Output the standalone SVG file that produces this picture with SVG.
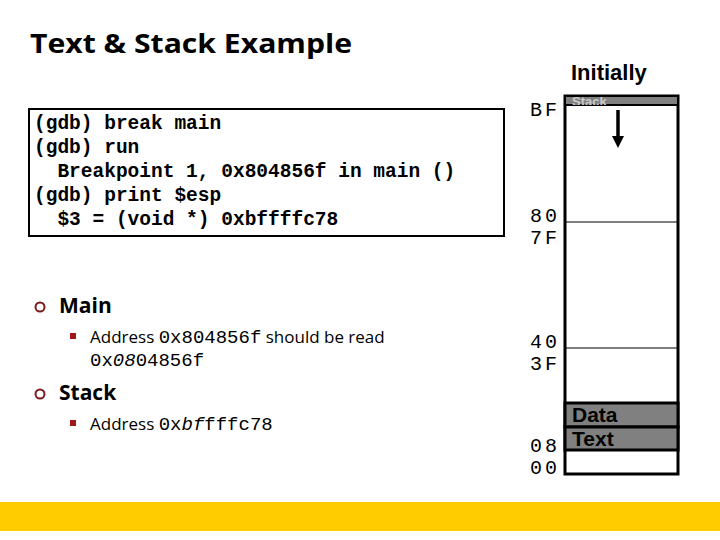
<svg xmlns="http://www.w3.org/2000/svg" width="720" height="540" viewBox="0 0 720 540">
<style>
.code{font-family:"Liberation Mono",monospace;font-weight:bold;font-size:19.5px;fill:#000;white-space:pre}
.addr{font-family:"Liberation Mono",monospace;font-size:20px;fill:#000;letter-spacing:3px}
.mono{font-family:"Liberation Mono",monospace;font-size:19px}
.cal{font-family:"Open Sans","Liberation Sans",sans-serif}
.arial{font-family:"Liberation Sans",Arial,sans-serif;font-weight:bold}
.band{fill:#808080;stroke:#000;stroke-width:3}
</style>
<defs>
<clipPath id="stackclip"><rect x="566" y="97" width="111" height="8"/></clipPath>
</defs>
<rect width="720" height="540" fill="#fff"/>
<text x="30" y="53" class="cal" font-weight="bold" font-size="27" textLength="322" lengthAdjust="spacingAndGlyphs">Text &amp; Stack Example</text>

<g id="code-box">
<rect x="29" y="109" width="475" height="127" fill="#fff" stroke="#000" stroke-width="2"/>
<text class="code" x="34" y="129">(gdb) break main</text>
<text class="code" x="34" y="153">(gdb) run</text>
<text class="code" x="34" y="177">  Breakpoint 1, 0x804856f in main ()</text>
<text class="code" x="34" y="201">(gdb) print $esp</text>
<text class="code" x="34" y="225">  $3 = (void *) 0xbffffc78</text>
</g>

<g id="bullets">
<circle cx="40" cy="307" r="4.5" fill="none" stroke="#7a1a1a" stroke-width="2"/>
<text x="59" y="313" class="cal" font-weight="bold" font-size="21">Main</text>
<rect x="70" y="333" width="6" height="6" fill="#a01818"/>
<text x="90" y="343" class="cal" font-size="17"><tspan>Address </tspan><tspan class="mono">0x804856f</tspan><tspan> should be read</tspan></text>
<text x="90" y="366" class="mono"><tspan>0x</tspan><tspan font-style="italic">08</tspan><tspan>04856f</tspan></text>
<circle cx="40" cy="394" r="4.5" fill="none" stroke="#7a1a1a" stroke-width="2"/>
<text x="59" y="400" class="cal" font-weight="bold" font-size="21">Stack</text>
<rect x="70" y="420" width="6" height="6" fill="#a01818"/>
<text x="90" y="430" class="cal" font-size="17"><tspan>Address </tspan><tspan class="mono">0x</tspan><tspan class="mono" font-style="italic">bf</tspan><tspan class="mono">fffc78</tspan></text>
</g>

<text x="571" y="80" class="arial" font-size="22">Initially</text>

<g id="memory">
<rect x="565" y="96" width="113" height="378" fill="#fff" stroke="#000" stroke-width="3"/>
<rect x="566" y="97" width="111" height="8" fill="#808080"/>
<line x1="565" y1="105" x2="678" y2="105" stroke="#000" stroke-width="2"/>
<text x="572" y="106" class="arial" font-size="13" fill="#ccc" clip-path="url(#stackclip)">Stack</text>
<line x1="566" y1="222" x2="677" y2="222" stroke="#000" stroke-width="1"/>
<line x1="566" y1="348" x2="677" y2="348" stroke="#000" stroke-width="1"/>
<rect x="565" y="403" width="113" height="24" class="band"/>
<rect x="565" y="427" width="113" height="23" class="band"/>
<text x="572" y="422" class="arial" font-size="21">Data</text>
<text x="572" y="446" class="arial" font-size="21">Text</text>
<line x1="618" y1="110" x2="618" y2="137" stroke="#000" stroke-width="3.5"/>
<polygon points="612,136 624,136 618,148" fill="#000"/>
</g>

<g id="labels">
<text x="530" y="116" class="addr">BF</text>
<text x="530" y="222" class="addr">80</text>
<text x="530" y="244" class="addr">7F</text>
<text x="530" y="348" class="addr">40</text>
<text x="530" y="370" class="addr">3F</text>
<text x="530" y="452" class="addr">08</text>
<text x="530" y="474" class="addr">00</text>
</g>

<rect x="0" y="502" width="720" height="29" fill="#ffcc00"/>
</svg>
